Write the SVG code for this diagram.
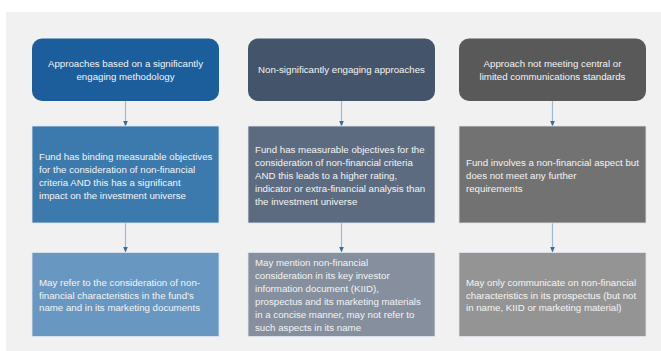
<svg xmlns="http://www.w3.org/2000/svg" width="661" height="351" viewBox="0 0 661 351">
<defs>
<style>
.t{font-family:"Liberation Sans",Arial,sans-serif;font-size:9.7px;fill:#f4f4f4}
.c{text-anchor:middle}
.box{stroke:#dfe6ee;stroke-width:0.8}
.con{stroke:#9fb8d3;stroke-width:1.2;fill:none}
</style>
<marker id="ah" markerWidth="6" markerHeight="5" refX="5" refY="2.5" orient="auto" markerUnits="userSpaceOnUse">
<path d="M0,0 L6,2.5 L0,5 z" fill="#3a6a9a"/>
</marker>
</defs>
<rect x="0" y="0" width="661" height="351" fill="#ffffff"/>
<rect x="6" y="12" width="655" height="339" fill="#f1f1f1"/>
<g id="connectors">
<line class="con" x1="125.5" y1="101" x2="125.5" y2="125.5" marker-end="url(#ah)"/>
<line class="con" x1="125.5" y1="223" x2="125.5" y2="251.5" marker-end="url(#ah)"/>
<line class="con" x1="341.5" y1="101" x2="341.5" y2="125.5" marker-end="url(#ah)"/>
<line class="con" x1="341.5" y1="223" x2="341.5" y2="251.5" marker-end="url(#ah)"/>
<line class="con" x1="552.5" y1="101" x2="552.5" y2="125.5" marker-end="url(#ah)"/>
<line class="con" x1="552.5" y1="223" x2="552.5" y2="251.5" marker-end="url(#ah)"/>
</g>
<g id="h1">
<rect x="32" y="38.5" width="187" height="62.5" rx="10" fill="#1b5e9b"/>
<text class="t c" x="125.5" y="66.5">Approaches based on a significantly</text>
<text class="t c" x="125.5" y="79.5">engaging methodology</text>
</g>
<g id="h2">
<rect x="248" y="38.5" width="187" height="62.5" rx="10" fill="#44546a"/>
<text class="t c" x="341.5" y="73">Non-significantly engaging approaches</text>
</g>
<g id="h3">
<rect x="459" y="38.5" width="187" height="62.5" rx="10" fill="#595959"/>
<text class="t c" x="552.5" y="66.5">Approach not meeting central or</text>
<text class="t c" x="552.5" y="79.5">limited communications standards</text>
</g>
<g id="m1">
<rect class="box" x="32" y="126" width="187" height="97" fill="#3c7aae"/>
<text class="t" x="39" y="159.5">Fund has binding measurable objectives</text>
<text class="t" x="39" y="172.5">for the consideration of non-financial</text>
<text class="t" x="39" y="185.5">criteria AND this has a significant</text>
<text class="t" x="39" y="198.5">impact on the investment universe</text>
</g>
<g id="m2">
<rect class="box" x="248" y="126" width="187" height="97" fill="#5d6b80"/>
<text class="t" x="255" y="152.5">Fund has measurable objectives for the</text>
<text class="t" x="255" y="165.5">consideration of non-financial criteria</text>
<text class="t" x="255" y="178.5">AND this leads to a higher rating,</text>
<text class="t" x="255" y="191.5">indicator or extra-financial analysis than</text>
<text class="t" x="255" y="204.5">the investment universe</text>
</g>
<g id="m3">
<rect class="box" x="459" y="126" width="187" height="97" fill="#727272"/>
<text class="t" x="466" y="165.5">Fund involves a non-financial aspect but</text>
<text class="t" x="466" y="178.5">does not meet any further</text>
<text class="t" x="466" y="191.5">requirements</text>
</g>
<g id="b1">
<rect class="box" x="32" y="252.5" width="187" height="84" fill="#6898c1"/>
<text class="t" x="39" y="286">May refer to the consideration of non-</text>
<text class="t" x="39" y="298.5">financial characteristics in the fund’s</text>
<text class="t" x="39" y="311">name and in its marketing documents</text>
</g>
<g id="b2">
<rect class="box" x="248" y="252.5" width="187" height="84" fill="#858f9e"/>
<text class="t" x="255" y="266">May mention non-financial</text>
<text class="t" x="255" y="279">consideration in its key investor</text>
<text class="t" x="255" y="292">information document (KIID),</text>
<text class="t" x="255" y="305">prospectus and its marketing materials</text>
<text class="t" x="255" y="318">in a concise manner, may not refer to</text>
<text class="t" x="255" y="331">such aspects in its name</text>
</g>
<g id="b3">
<rect class="box" x="459" y="252.5" width="187" height="84" fill="#949494"/>
<text class="t" x="466" y="286">May only communicate on non-financial</text>
<text class="t" x="466" y="298.5">characteristics in its prospectus (but not</text>
<text class="t" x="466" y="311">in name, KIID or marketing material)</text>
</g>
</svg>
